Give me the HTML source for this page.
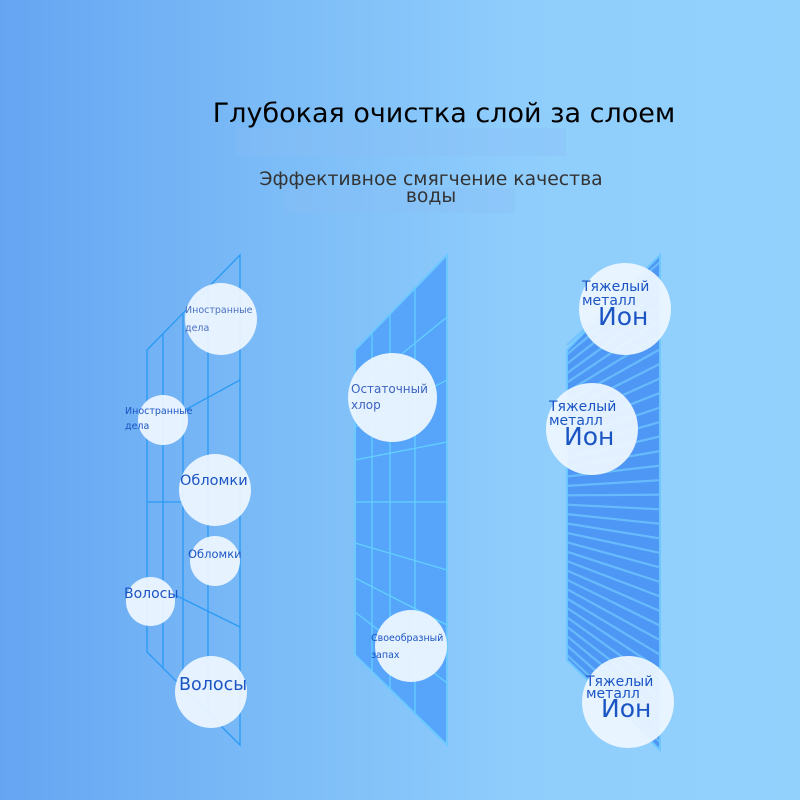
<!DOCTYPE html>
<html><head><meta charset="utf-8"><style>
body{margin:0;width:800px;height:800px;overflow:hidden;font-family:"Liberation Sans","DejaVu Sans",sans-serif;}
#bg{position:absolute;left:0;top:0;width:800px;height:800px;background:linear-gradient(90deg,#65a5f2 0%,#7cbcf7 35%,#8fcdfc 65%,#93d1fd 100%);}
.t{position:absolute;white-space:nowrap;color:#1b55c4;font-family:"DejaVu Sans",sans-serif;}
.c{position:absolute;border-radius:50%;background:rgba(240,247,255,0.92);}
</style></head><body>
<div id="bg"></div>
<div style="position:absolute;left:236px;top:128px;width:330px;height:28px;background:rgba(140,190,245,0.3)"></div>
<div style="position:absolute;left:283px;top:188px;width:232px;height:25px;background:rgba(140,190,245,0.3)"></div>
<div style="position:absolute;left:0;top:98px;width:888px;text-align:center;font-family:'DejaVu Sans',sans-serif;font-size:27px;color:#000">Глубокая очистка слой за слоем</div>
<div style="position:absolute;left:0;top:171px;width:862px;text-align:center;font-family:'DejaVu Sans',sans-serif;font-size:18.8px;line-height:17px;color:#333">Эффективное смягчение качества<br>воды</div>
<svg width="800" height="800" style="position:absolute;left:0;top:0">
<g stroke="#2a9af5" stroke-width="1.3" fill="none">
<path d="M147 350 L240 255 L240 745 L147 652 Z"/>
<line x1="163" y1="334" x2="163" y2="668"/>
<line x1="183" y1="314" x2="183" y2="688"/>
<line x1="208" y1="288" x2="208" y2="713"/>
<line x1="185" y1="410" x2="240" y2="380"/>
<line x1="147" y1="502" x2="182" y2="502"/>
<line x1="175" y1="595" x2="240" y2="627"/>
</g>
<path d="M355 350 L447 255 L447 745 L355 655 Z" fill="#57a4fb" stroke="#6cc8ff" stroke-width="2"/>
<g stroke="#63d0ff" stroke-width="1.3">
<line x1="372" y1="333" x2="372" y2="671"/>
<line x1="390" y1="315" x2="390" y2="689"/>
<line x1="415" y1="288" x2="415" y2="714"/>
<line x1="355" y1="392" x2="447" y2="317"/>
<line x1="355" y1="427" x2="447" y2="380"/>
<line x1="355" y1="460" x2="447" y2="442"/>
<line x1="355" y1="502" x2="447" y2="502"/>
<line x1="355" y1="543" x2="447" y2="570"/>
<line x1="355" y1="578" x2="447" y2="625"/>
<line x1="355" y1="612" x2="447" y2="683"/>
</g>
<path d="M567 350 L660 255 L660 750 L567 660 Z" fill="#4f97f5" stroke="#6cc8ff" stroke-width="2"/>
<g id="st" stroke="#6cc2ff" stroke-width="2.2" opacity="0.85"></g>
</svg>
<script>
var g=document.getElementById('st'),s='';
for(var i=0;i<34;i++){var f=i/33;var yl=345+f*310;var yr=262+f*480;s+='<line x1="567" y1="'+yl.toFixed(1)+'" x2="660" y2="'+yr.toFixed(1)+'"/>';}
g.innerHTML=s;
</script>
<div class="c" style="left:185px;top:283px;width:72px;height:72px"></div>
<div class="c" style="left:138px;top:395px;width:50px;height:50px"></div>
<div class="c" style="left:179px;top:454px;width:72px;height:72px"></div>
<div class="c" style="left:190px;top:536px;width:50px;height:50px"></div>
<div class="c" style="left:126px;top:577px;width:49px;height:49px"></div>
<div class="c" style="left:175px;top:656px;width:72px;height:72px"></div>
<div class="c" style="left:348px;top:353px;width:89px;height:89px"></div>
<div class="c" style="left:375px;top:610px;width:72px;height:72px"></div>
<div class="c" style="left:579px;top:263px;width:92px;height:92px"></div>
<div class="c" style="left:546px;top:383px;width:92px;height:92px"></div>
<div class="c" style="left:582px;top:656px;width:92px;height:92px"></div>
<div class="t" style="left:185px;top:302px;font-size:9.5px;line-height:18px;color:#4a70c0">Иностранные<br>дела</div>
<div class="t" style="left:125px;top:404px;font-size:9.5px;line-height:15px">Иностранные<br>дела</div>
<div class="t" style="left:180px;top:473px;font-size:14.5px">Обломки</div>
<div class="t" style="left:188px;top:547px;font-size:11.5px">Обломки</div>
<div class="t" style="left:124px;top:586px;font-size:14px">Волосы</div>
<div class="t" style="left:179px;top:675px;font-size:17.5px">Волосы</div>
<div class="t" style="left:351px;top:381px;font-size:12px;line-height:16px;color:#3c64c0">Остаточный<br>хлор</div>
<div class="t" style="left:371px;top:630px;font-size:9.5px;line-height:17px">Своеобразный<br>запах</div>
<div class="t" style="left:582px;top:280px;font-size:14px;line-height:14px">Тяжелый<br>металл</div>
<div class="t" style="left:598px;top:302px;font-size:25px">Ион</div>
<div class="t" style="left:549px;top:400px;font-size:14px;line-height:14px">Тяжелый<br>металл</div>
<div class="t" style="left:564px;top:422px;font-size:25px">Ион</div>
<div class="t" style="left:586px;top:676px;font-size:14px;line-height:12px">Тяжелый<br>металл</div>
<div class="t" style="left:601px;top:694px;font-size:25px">Ион</div>
</body></html>
